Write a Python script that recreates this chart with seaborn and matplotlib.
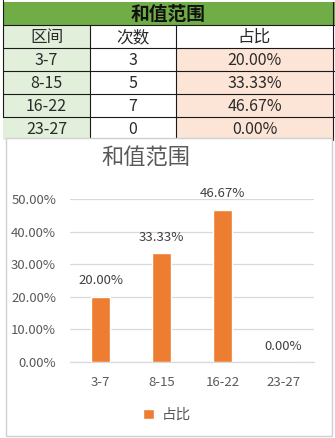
import matplotlib
matplotlib.use("Agg")
import matplotlib.pyplot as plt
import matplotlib.patches as mpatches
import seaborn as sns
import pandas as pd

sns.set_theme(style="white")
plt.rcParams['font.family'] = ['Noto Sans CJK SC', 'DejaVu Sans']

title = "和值范围"
headers = ["区间", "次数", "占比"]
categories = ["3-7", "8-15", "16-22", "23-27"]
counts = [3, 5, 7, 0]
shares = [0.2000, 0.3333, 0.4667, 0.0000]
legend_label = "占比"

W, H = 335, 438
fig = plt.figure(figsize=(W / 100, H / 100), dpi=100)
fig.patch.set_facecolor("white")

# ---- background "spreadsheet" layer (pixel coords, top-left origin) ----
bg = fig.add_axes([0, 0, 1, 1])
bg.set_xlim(0, W)
bg.set_ylim(H, 0)
bg.axis("off")

green = "#70AD47"
lgreen = "#E2EFDA"
peach = "#FCE4D6"
cols = [3, 90, 176, 333]
rows = [2, 25, 48, 71, 94, 117, 140]

def rect(x0, y0, x1, y1, fc, ec="none", lw=0, z=1):
    bg.add_patch(mpatches.Rectangle((x0, y0), x1 - x0, y1 - y0, facecolor=fc,
                                    edgecolor=ec, linewidth=lw, zorder=z))

rect(cols[0], rows[0], W, rows[1], green)
bg.text((cols[0] + cols[3]) / 2, (rows[0] + rows[1]) / 2 + 1, title, ha="center",
        va="center", fontsize=13.5, fontweight="bold", color="#111111", zorder=3)

# header row
rect(cols[0], rows[1], cols[1], rows[2], lgreen)
for j, h in enumerate(headers):
    bg.text((cols[j] + cols[j + 1]) / 2, (rows[1] + rows[2]) / 2 + 1, h,
            ha="center", va="center", fontsize=12, color="#2a2a2a", zorder=3)

for i, cat in enumerate(categories):
    y0, y1 = rows[2 + i], rows[3 + i]
    rect(cols[0], y0, cols[1], y1, lgreen)
    rect(cols[2], y0, cols[3], y1, peach)
    vals = [cat, str(counts[i]), f"{shares[i] * 100:.2f}%"]
    for j, v in enumerate(vals):
        bg.text((cols[j] + cols[j + 1]) / 2, (y0 + y1) / 2 + 1, v, ha="center",
                va="center", fontsize=11.5, color="#2a2a2a", zorder=3)

lc = "#1a1a1a"
for y in rows[1:6]:
    bg.plot([cols[0], W], [y, y], color=lc, lw=0.8, zorder=2)
bg.plot([cols[0], cols[0]], [0, rows[5]], color=lc, lw=0.8, zorder=2)
for x in cols[1:3]:
    bg.plot([x, x], [rows[1], rows[6]], color=lc, lw=0.8, zorder=2)
bg.plot([cols[3], cols[3]], [rows[0], rows[6]], color=lc, lw=0.8, zorder=2)

# chart box
rect(6, 138, 332, 436, "white", ec="#D0D0D0", lw=1.0, z=4)

# ---- chart ----
ax_l, ax_r, ax_t, ax_b = 70, 314, 199, 362
ax = fig.add_axes([ax_l / W, (H - ax_b) / H, (ax_r - ax_l) / W, (ax_b - ax_t) / H])
ax.set_zorder(5)
ax.patch.set_alpha(0)

df = pd.DataFrame({"cat": categories, "share": shares})
sns.barplot(data=df, x="cat", y="share", color="#ED7D31", width=0.31,
            saturation=1, ax=ax, zorder=3)

ax.set_ylim(0, 0.5)
ax.set_xlim(-0.5, len(categories) - 0.5)
ticks = [0, 0.1, 0.2, 0.3, 0.4, 0.5]
ax.set_yticks(ticks)
ax.set_yticklabels([f"{t * 100:.2f}%" for t in ticks])
ax.yaxis.grid(True, color="#D9D9D9", lw=0.9)
ax.set_axisbelow(True)
for s in ["top", "right", "left"]:
    ax.spines[s].set_visible(False)
ax.spines["bottom"].set_color("#D9D9D9")
ax.spines["bottom"].set_linewidth(0.9)
ax.tick_params(axis="both", length=0, labelsize=9.5, colors="#595959")
ax.tick_params(axis="y", pad=10)
ax.tick_params(axis="x", pad=10)
ax.set_xlabel("")
ax.set_ylabel("")

for i, v in enumerate(shares):
    ax.annotate(f"{v * 100:.2f}%", (i, v), xytext=(0, 11.5), textcoords="offset points",
                ha="center", va="center", fontsize=9.5, color="#404040")

fig.text(146 / W, (H - 157) / H, title, ha="center", va="center", fontsize=16,
         color="#595959", zorder=6)

handle = mpatches.Patch(facecolor="#ED7D31", label=legend_label)
leg = fig.legend(handles=[handle], loc="center", bbox_to_anchor=(167 / W, (H - 415) / H),
                 frameon=False, fontsize=10.5, handlelength=0.75, handleheight=0.75,
                 handletextpad=0.5, labelcolor="#595959")
leg.set_zorder(6)

fig.savefig("out.png", dpi=100)
